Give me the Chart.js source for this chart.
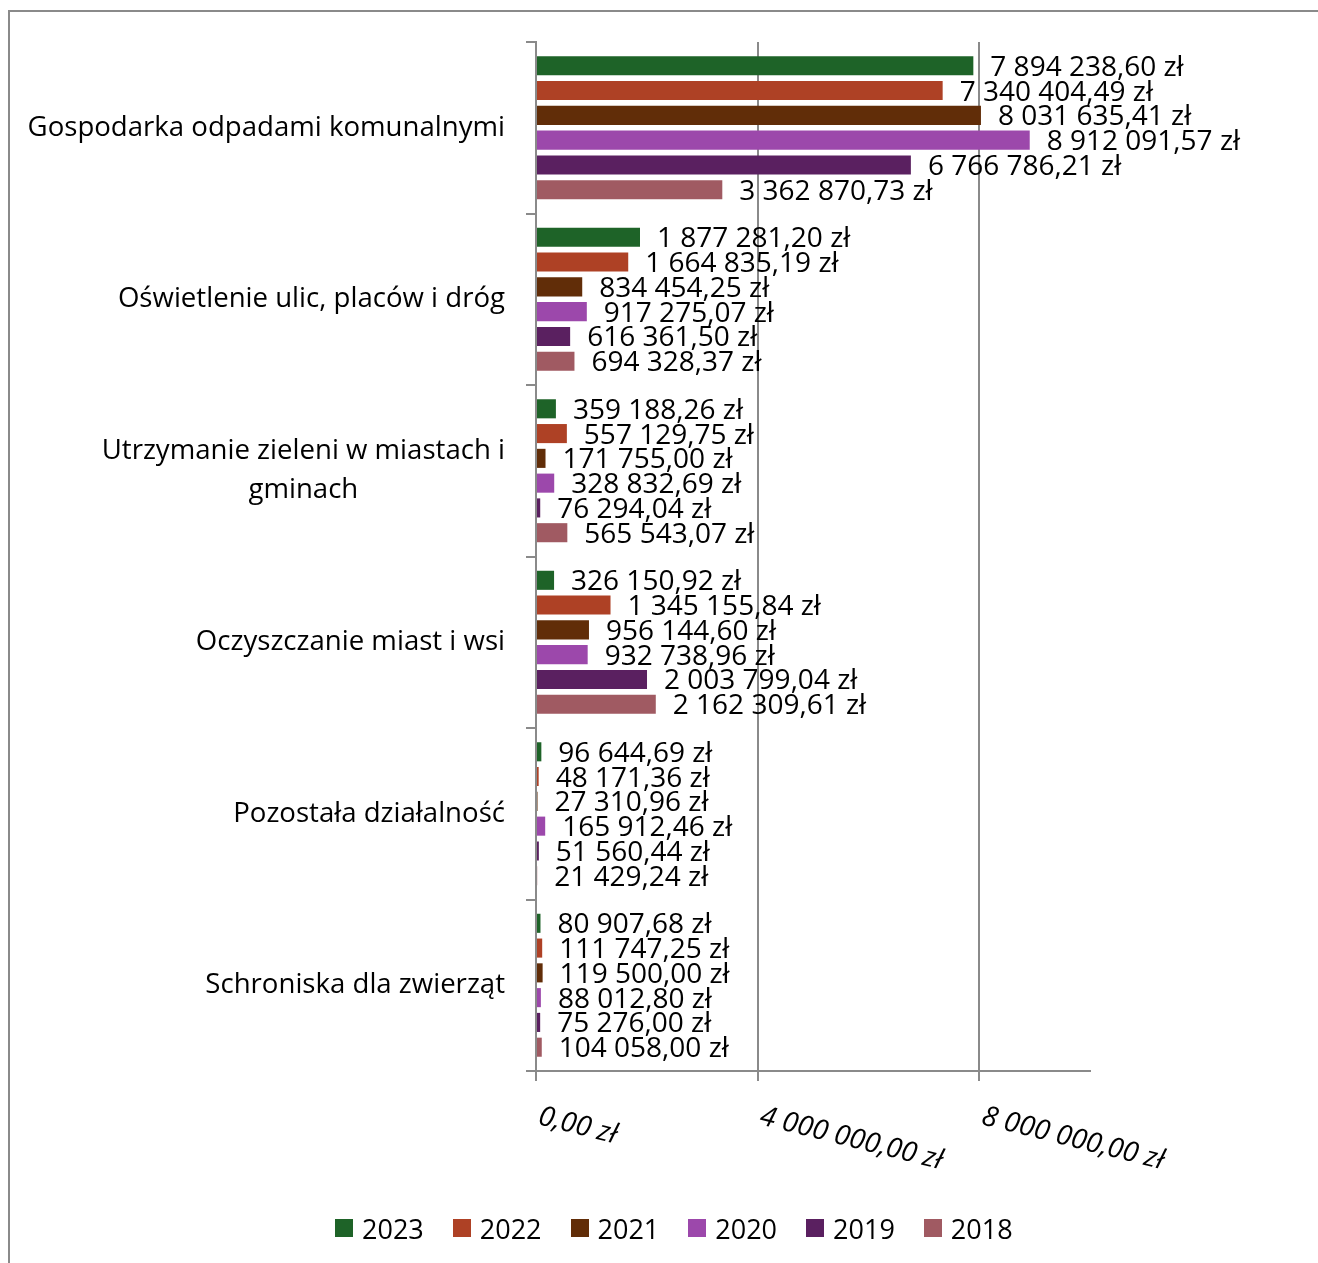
<!DOCTYPE html>
<html>
<head>
<meta charset="utf-8">
<script src="https://cdn.jsdelivr.net/npm/chart.js@4.4.1/dist/chart.umd.min.js"></script>
<style>
    body { margin: 0; background: #fff; }
    #wrap { position: relative; width: 1318px; height: 1263px; }
    #legend {
        position: absolute; left: 335px; top: 1210px; height: 36px;
        display: flex; align-items: center;
        font: 27px "Open Sans", sans-serif; color: #000;
    }
    #legend .item { display: flex; align-items: center; margin-right: 29px; }
    #legend .box { width: 18px; height: 18px; margin-right: 9px; }
</style>
</head>
<body>
<div id="wrap">
    <canvas id="chart" width="1318" height="1263"></canvas>
    <div id="legend"></div>
</div>
<script>
// Categories (multi-line where the original wraps)
const categories = [
    ['Gospodarka odpadami komunalnymi'],
    ['Oświetlenie ulic, placów i dróg'],
    ['Utrzymanie zieleni w miastach i', 'gminach'],
    ['Oczyszczanie miast i wsi'],
    ['Pozostała działalność'],
    ['Schroniska dla zwierząt']
];

const years = ['2023', '2022', '2021', '2020', '2019', '2018'];

const values2023 = [7894238.60, 1877281.20, 359188.26, 326150.92, 96644.69, 80907.68];
const values2022 = [7340404.49, 1664835.19, 557129.75, 1345155.84, 48171.36, 111747.25];
const values2021 = [8031635.41, 834454.25, 171755.00, 956144.60, 27310.96, 119500.00];
const values2020 = [8912091.57, 917275.07, 328832.69, 932738.96, 165912.46, 88012.80];
const values2019 = [6766786.21, 616361.50, 76294.04, 2003799.04, 51560.44, 75276.00];
const values2018 = [3362870.73, 694328.37, 565543.07, 2162309.61, 21429.24, 104058.00];

const seriesValues = [values2023, values2022, values2021, values2020, values2019, values2018];
const colors = ['#1e6328', '#ae4125', '#612d08', '#9c48ab', '#5a2060', '#a05a62'];

// x axis: ticks shown in the original, axis runs a bit past the last one
const xTickValues = [0, 4000000, 8000000];
const xMax = 10000000;

const gridColor = '#8a8a8a';
const font = '"Open Sans", sans-serif';

// Polish currency format: 7 894 238,60 zł
function formatZl(v) {
    const parts = v.toFixed(2).split('.');
    return parts[0].replace(/\B(?=(\d{3})+(?!\d))/g, ' ') + ',' + parts[1] + ' zł';
}

// Frame, value labels, category labels and rotated axis labels
const drawExtras = {
    id: 'drawExtras',
    beforeDraw(chart) {
        const ctx = chart.ctx;
        ctx.save();
        ctx.fillStyle = gridColor;
        ctx.fillRect(8, 10, 1310, 2);
        ctx.fillRect(8, 10, 2, 1253);
        ctx.restore();
    },
    afterDatasetsDraw(chart) {
        const ctx = chart.ctx;
        ctx.save();
        ctx.fillStyle = '#000';
        ctx.textBaseline = 'middle';

        // value labels
        ctx.font = '28px ' + font;
        ctx.textAlign = 'left';
        chart.data.datasets.forEach((ds, i) => {
            chart.getDatasetMeta(i).data.forEach((bar, j) => {
                ctx.fillText(formatZl(ds.data[j]), bar.x + 17, bar.y + 2);
            });
        });

        // category labels, lines centred inside a right-aligned block
        const yScale = chart.scales.y;
        const right = yScale.right - 31;
        ctx.font = '27.6px ' + font;
        ctx.textAlign = 'center';
        chart.data.labels.forEach((lab, i) => {
            const lines = Array.isArray(lab) ? lab : [lab];
            const yc = yScale.getPixelForValue(i);
            const blockW = Math.max(...lines.map(l => ctx.measureText(l).width));
            lines.forEach((l, k) => {
                ctx.fillText(l, right - blockW / 2, yc + (k - (lines.length - 1) / 2) * 39);
            });
        });

        // x tick labels, italic and tilted downwards
        const xScale = chart.scales.x;
        ctx.font = 'italic 28px ' + font;
        ctx.textAlign = 'left';
        ctx.textBaseline = 'alphabetic';
        xScale.ticks.forEach(t => {
            const px = xScale.getPixelForValue(t.value);
            ctx.save();
            ctx.translate(px + 1, 1124);
            ctx.rotate(14 * Math.PI / 180);
            ctx.fillText(formatZl(t.value), 0, 0);
            ctx.restore();
        });
        ctx.restore();
    }
};

const datasets = years.map((year, i) => ({
    label: year,
    data: seriesValues[i],
    backgroundColor: colors[i],
    borderWidth: 0,
    barPercentage: 0.77,
    categoryPercentage: 0.867
}));

new Chart(document.getElementById('chart'), {
    type: 'bar',
    data: { labels: categories, datasets: datasets },
    options: {
        indexAxis: 'y',
        responsive: false,
        animation: false,
        layout: { padding: { left: 8, right: 228, top: 42, bottom: 0 } },
        plugins: {
            legend: { display: false },
            tooltip: { enabled: false }
        },
        scales: {
            x: {
                type: 'linear',
                min: 0,
                max: xMax,
                ticks: { display: false },
                afterBuildTicks: function(scale) {
                    scale.ticks = xTickValues.map(v => ({ value: v }));
                },
                grid: { color: gridColor, lineWidth: 2, drawTicks: true, tickLength: 10 },
                border: { display: true, color: gridColor, width: 2 },
                afterFit: function(scale) { scale.height = 192; }
            },
            y: {
                type: 'category',
                ticks: { display: false },
                grid: { drawOnChartArea: false, color: gridColor, lineWidth: 2, tickLength: 10, offset: true },
                border: { display: true, color: gridColor, width: 2 },
                afterFit: function(scale) { scale.width = 528; }
            }
        }
    },
    plugins: [drawExtras]
});

// HTML legend
const legend = document.getElementById('legend');
years.forEach((year, i) => {
    const item = document.createElement('div');
    item.className = 'item';
    item.innerHTML = '<span class="box" style="background:' + colors[i] + '"></span><span>' + year + '</span>';
    legend.appendChild(item);
});
</script>
</body>
</html>
